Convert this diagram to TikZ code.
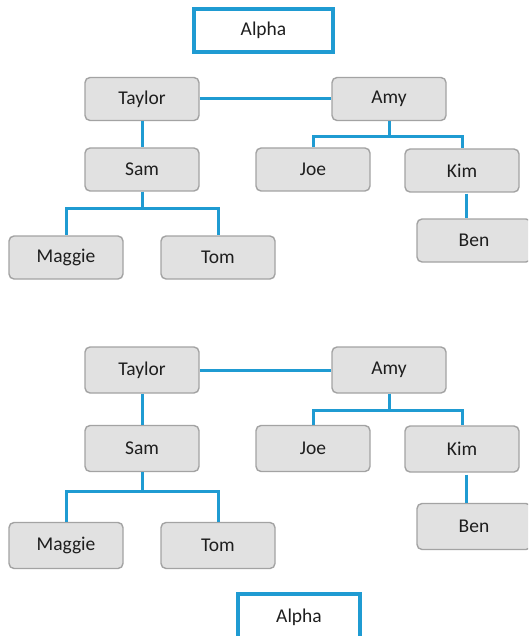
\documentclass[tikz,border=0pt]{standalone}
\usepackage{fontspec}
\setmainfont{Carlito}
\usepackage{tikz}
\usetikzlibrary{positioning}
\definecolor{linkblue}{HTML}{1F9BD2}
\definecolor{boxgray}{HTML}{E1E1E1}
\definecolor{edgegray}{HTML}{A3A3A3}
\definecolor{textdark}{HTML}{1E1E1E}
\tikzset{person/.style={rectangle,rounded corners=5pt,draw=edgegray,line width=1.4pt,fill=boxgray,
    minimum width=114pt,minimum height=43pt,inner sep=0pt,text=textdark,font=\fontsize{19.5}{22}\selectfont}}
\tikzset{title/.style={rectangle,draw=linkblue,line width=3.5pt,fill=white,
    minimum height=43pt,inner sep=0pt,text=textdark,font=\fontsize{19.5}{22}\selectfont}}
\tikzset{link/.style={draw=linkblue,line width=3pt}}

\begin{document}
\begin{tikzpicture}[x=1pt,y=-1pt]
\useasboundingbox (0,0) rectangle (528,636);
\clip (0,0) rectangle (528,636);
% upper tree
\node (al1) [title,minimum width=139pt] at (263.5,30.5) {Alpha};
\node (ta1) [person] at (142,99) {Taylor};
\node (am1) [person] at (389,99) {Amy};
\node (sa1) [person] at (142,169.5) {Sam};
\node (jo1) [person] at (313,169.5) {Joe};
\node (ki1) [person] at (462,170.5) {Kim};
\node (be1) [person] at (474,240.5) {Ben};
\node (ma1) [person] at (66,257.5) {Maggie};
\node (to1) [person] at (218,257.5) {Tom};
%
\path[link] (ta1.east) -- (am1.west);
\path[link] (ta1.south) -- (sa1.north);
\path[link] (am1.south) -- ++(0,15) -| (jo1.north);
\path[link] (am1.south) -- ++(0,15) -| (ki1.north);
\path[link] (sa1.south) -- ++(0,17) -| (ma1.north);
\path[link] (sa1.south) -- ++(0,17) -| (to1.north);
\path[link] ([xshift=4pt,yshift=-1pt]ki1.south) -- ([xshift=-8pt]be1.north);
% lower tree
\node (ta2) [person,minimum height=46pt] at (142,370) {Taylor};
\node (am2) [person,minimum height=46pt] at (389,370) {Amy};
\node (sa2) [person,minimum height=46pt] at (142,448.5) {Sam};
\node (jo2) [person,minimum height=46pt] at (313,448.5) {Joe};
\node (ki2) [person,minimum height=46pt] at (462,449) {Kim};
\node (be2) [person,minimum height=46pt] at (474,526.5) {Ben};
\node (ma2) [person,minimum height=46pt] at (66,545.5) {Maggie};
\node (to2) [person,minimum height=46pt] at (218,545.5) {Tom};
\node (al2) [title,minimum width=122pt,minimum height=46pt] at (299,617) {Alpha};
%
\path[link] (ta2.east) -- (am2.west);
\path[link] (ta2.south) -- (sa2.north);
\path[link] (am2.south) -- ++(0,17) -| (jo2.north);
\path[link] (am2.south) -- ++(0,17) -| (ki2.north);
\path[link] (sa2.south) -- ++(0,19) -| (ma2.north);
\path[link] (sa2.south) -- ++(0,19) -| (to2.north);
\path[link] ([xshift=4pt,yshift=-2pt]ki2.south) -- ([xshift=-8pt]be2.north);
\end{tikzpicture}
\end{document}
